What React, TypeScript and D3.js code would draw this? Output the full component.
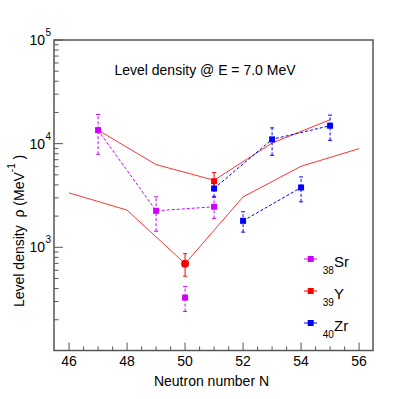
import React from "react";
import * as d3 from "d3";

// measured values (level density at E = 7.0 MeV, MeV^-1)
const srN = [47, 49, 51];
const srVal = [13500, 2250, 2460];
const srLo = [7900, 1430, 1900];
const srHi = [19100, 3070, 3100];

const srExtraN = [50];
const srExtraVal = [327];
const srExtraLo = [240];
const srExtraHi = [418];

const yN = [51];
const yVal = [4340];
const yLo = [3600];
const yHi = [5260];

const yCircN = [50];
const yCircVal = [695];
const yCircLo = [526];
const yCircHi = [868];

const zrAN = [51, 53, 55];
const zrAVal = [3690, 11000, 14900];
const zrALo = [3050, 7720, 10760];
const zrAHi = [4450, 14200, 18840];

const zrBN = [52, 54];
const zrBVal = [1800, 3775];
const zrBLo = [1400, 2743];
const zrBHi = [2200, 4773];

// calculated curves (red solid)
const thUpperN = [47, 49, 51, 53, 55];
const thUpperVal = [13500, 6280, 4436, 10140, 17010];
const thLowerN = [46, 48, 50, 52, 54, 56];
const thLowerVal = [3350, 2285, 695, 3066, 6050, 8950];

const xTicks = [46, 48, 50, 52, 54, 56];
const yDecades = [3, 4, 5];

const W = 415;
const H = 399;
const left = 54, right = 373, top = 40, bottom = 350.5;

const x = d3.scaleLinear().domain([45.48, 56.48]).range([left, right]);
const y = d3.scaleLog().domain([101, 1e5]).range([bottom, top]);

const MAGENTA = "#cc00ff";
const RED = "#ff0000";
const BLUE = "#0000ff";
const FONT = "'Liberation Sans', Arial, Helvetica, sans-serif";

const line = d3
  .line<[number, number]>()
  .x(d => x(d[0]))
  .y(d => y(d[1]));

function pts(ns: number[], vs: number[]): [number, number][] {
  return ns.map((n, i) => [n, vs[i]]);
}

function ErrBars({ ns, lo, hi, color, dash }: { ns: number[]; lo: number[]; hi: number[]; color: string; dash?: string }) {
  return (
    <g stroke={color} strokeWidth={1}>
      {ns.map((n, i) => (
        <g key={i}>
          <line x1={x(n)} x2={x(n)} y1={y(lo[i])} y2={y(hi[i])} strokeDasharray={dash} />
          <line x1={x(n) - 2} x2={x(n) + 2} y1={y(lo[i])} y2={y(lo[i])} />
          <line x1={x(n) - 2} x2={x(n) + 2} y1={y(hi[i])} y2={y(hi[i])} />
        </g>
      ))}
    </g>
  );
}

function Squares({ ns, vs, color }: { ns: number[]; vs: number[]; color: string }) {
  return (
    <g fill={color}>
      {ns.map((n, i) => (
        <rect key={i} x={x(n) - 3} y={y(vs[i]) - 3} width={6} height={6} />
      ))}
    </g>
  );
}

export default function App() {
  // minor ticks
  const xMinor = d3.range(46, 56.01, 0.5).filter(v => v % 2 !== 0);
  const yMinor: number[] = [];
  for (const d of [2, 3, 4]) {
    for (let m = 2; m <= 9; m++) {
      const v = m * Math.pow(10, d);
      if (v >= 101 && v < 1e5) yMinor.push(v);
    }
  }
  const legend = [
    { sub: "38", name: "Sr", color: MAGENTA, ly: 259 },
    { sub: "39", name: "Y", color: RED, ly: 291 },
    { sub: "40", name: "Zr", color: BLUE, ly: 323 },
  ];

  return (
    <svg
      width={W}
      height={H}
      style={{ position: "absolute", left: 0, top: 0, background: "#fff" }}
      fontFamily={FONT}
    >
      <rect x={0} y={0} width={W} height={H} fill="#fff" />

      {/* theory curves */}
      <path d={line(pts(thUpperN, thUpperVal)) || ""} fill="none" stroke="#ff3333" strokeWidth={1} />
      <path d={line(pts(thLowerN, thLowerVal)) || ""} fill="none" stroke="#ff3333" strokeWidth={1} />

      {/* data connecting lines */}
      <path d={line(pts(srN, srVal)) || ""} fill="none" stroke={MAGENTA} strokeWidth={1} strokeDasharray="3,2" />
      <path d={line(pts(zrAN, zrAVal)) || ""} fill="none" stroke={BLUE} strokeWidth={1} strokeDasharray="3,2" />
      <path d={line(pts(zrBN, zrBVal)) || ""} fill="none" stroke={BLUE} strokeWidth={1} strokeDasharray="3,2" />

      {/* error bars */}
      <ErrBars ns={srN} lo={srLo} hi={srHi} color={MAGENTA} dash="3,2" />
      <ErrBars ns={srExtraN} lo={srExtraLo} hi={srExtraHi} color={MAGENTA} dash="3,2" />
      <ErrBars ns={zrAN} lo={zrALo} hi={zrAHi} color={BLUE} dash="3,2" />
      <ErrBars ns={zrBN} lo={zrBLo} hi={zrBHi} color={BLUE} dash="3,2" />
      <ErrBars ns={yN} lo={yLo} hi={yHi} color={RED} />
      <ErrBars ns={yCircN} lo={yCircLo} hi={yCircHi} color={RED} />

      {/* markers */}
      <Squares ns={srN} vs={srVal} color={MAGENTA} />
      <Squares ns={srExtraN} vs={srExtraVal} color={MAGENTA} />
      <Squares ns={yN} vs={yVal} color={RED} />
      <Squares ns={zrAN} vs={zrAVal} color={BLUE} />
      <Squares ns={zrBN} vs={zrBVal} color={BLUE} />
      {yCircN.map((n, i) => (
        <circle key={i} cx={x(n)} cy={y(yCircVal[i])} r={4} fill={RED} />
      ))}

      {/* frame */}
      <rect x={left} y={top} width={right - left} height={bottom - top} fill="none" stroke="#555" strokeWidth={1.5} />

      {/* ticks */}
      <g stroke="#555" strokeWidth={1}>
        {xTicks.map(t => (
          <line key={t} x1={x(t)} x2={x(t)} y1={bottom} y2={bottom - 8} />
        ))}
        {xMinor.map(t => (
          <line key={t} x1={x(t)} x2={x(t)} y1={bottom} y2={bottom - 4} />
        ))}
        {yDecades.map(d => (
          <line key={d} x1={left} x2={left + 9} y1={y(Math.pow(10, d))} y2={y(Math.pow(10, d))} />
        ))}
        {yMinor.map(v => (
          <line key={v} x1={left} x2={left + 4.5} y1={y(v)} y2={y(v)} />
        ))}
      </g>
      <g fontSize={14} fill="#000" textAnchor="middle">
        {xTicks.map(t => (
          <text key={t} x={x(t)} y={366}>{t}</text>
        ))}
      </g>
      <g fill="#000">
        {yDecades.map(d => (
          <text key={d} x={45} y={y(Math.pow(10, d)) + 5} fontSize={14} textAnchor="end">
            10
          </text>
        ))}
        {yDecades.map(d => (
          <text key={"s" + d} x={45.5} y={y(Math.pow(10, d)) - 4} fontSize={10}>
            {d}
          </text>
        ))}
      </g>

      {/* axis titles */}
      <text x={211.5} y={385.5} fontSize={14} textAnchor="middle">
        Neutron number N
      </text>
      <text transform="translate(23.5,307) rotate(-90)" fontSize={14} xmlSpace="preserve">
        {"Level density  ρ (MeV"}
        <tspan fontSize={10} dy={-9}>-1</tspan>
        <tspan dy={9}>{" )"}</tspan>
      </text>

      {/* title */}
      <text x={205} y={75} fontSize={14} textAnchor="middle">
        Level density @ E = 7.0 MeV
      </text>

      {/* legend */}
      {legend.map(l => (
        <g key={l.name}>
          <line x1={304} x2={317} y1={l.ly} y2={l.ly} stroke={l.color} strokeWidth={1} />
          <rect x={307.7} y={l.ly - 3} width={6} height={6} fill={l.color} />
          <text x={322.7} y={l.ly + 15.3} fontSize={10}>{l.sub}</text>
          <text x={334} y={l.ly + 7.5} fontSize={15}>{l.name}</text>
        </g>
      ))}
    </svg>
  );
}
